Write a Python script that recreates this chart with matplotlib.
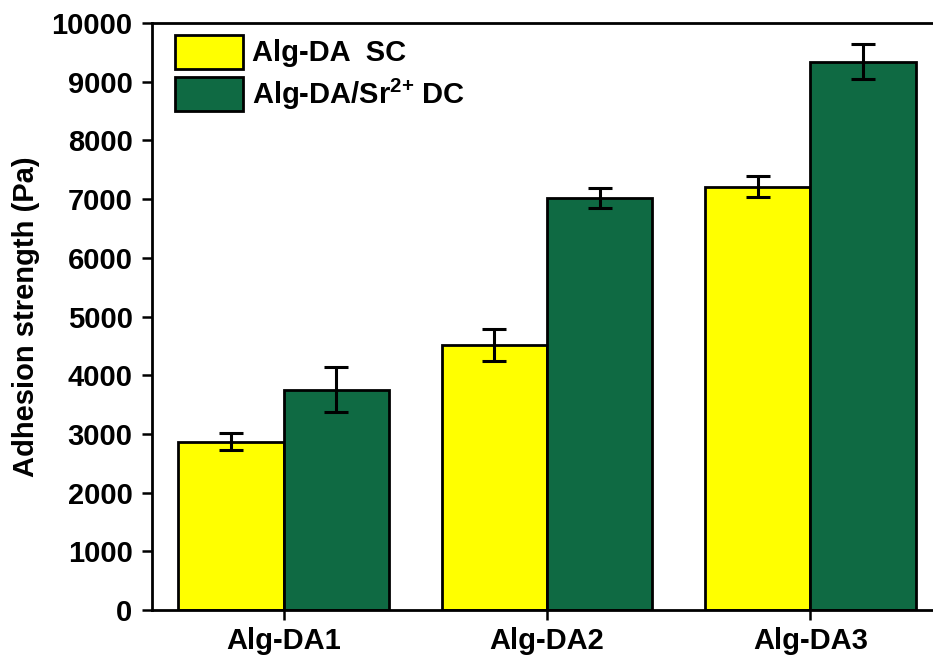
import numpy as np
import matplotlib.pyplot as plt

groups = ['Alg-DA1', 'Alg-DA2', 'Alg-DA3']
sc_mean = [2870, 4510, 7210]
sc_err = [145, 275, 180]
dc_mean = [3750, 7020, 9340]
dc_err = [385, 170, 300]

plt.rcParams['font.family'] = ['Liberation Sans', 'DejaVu Sans']
plt.rcParams['font.weight'] = 'bold'
plt.rcParams['mathtext.default'] = 'bf'
plt.rcParams['mathtext.fontset'] = 'custom'
plt.rcParams['mathtext.bf'] = 'Liberation Sans:bold'

fs = 21

fig = plt.figure(figsize=(9.33, 6.66), dpi=100)
# axes run past the right edge of the figure
ax = fig.add_axes([152 / 933, 56 / 666, 790 / 933, 587 / 666])

x = np.arange(len(groups))
w = 0.4
err_kw = dict(elinewidth=2.2, capthick=2.2, capsize=8.5, ecolor='black')
ax.bar(x - w / 2, sc_mean, w, yerr=sc_err, color='#FFFF00', edgecolor='black',
       linewidth=2, label='Alg-DA  SC', error_kw=err_kw)
ax.bar(x + w / 2, dc_mean, w, yerr=dc_err, color='#0F6A43', edgecolor='black',
       linewidth=2, label='Alg-DA/Sr$^{2{+}}$ DC', error_kw=err_kw)

ax.set_xlim(-0.5, 2.5)
ax.set_ylim(0, 10000)
ax.set_yticks(np.arange(0, 10001, 1000))
ax.set_xticks(x)
ax.set_xticklabels(groups)
ax.set_ylabel('Adhesion strength (Pa)', fontsize=fs, fontweight='bold', labelpad=8)

ax.tick_params(axis='both', labelsize=fs, width=1.8, length=7, direction='out')
ax.tick_params(axis='y', pad=7)
ax.tick_params(axis='x', pad=5)
for s in ax.spines.values():
    s.set_linewidth(2)

leg = ax.legend(loc='upper left', fontsize=fs, frameon=False, handlelength=2.33,
                handleheight=1.41, labelspacing=0.27, handletextpad=0.3,
                borderpad=0, borderaxespad=0, bbox_to_anchor=(0.029, 0.98))
for p in leg.get_patches():
    p.set_linewidth(2)

fig.savefig('out.png', dpi=100)
